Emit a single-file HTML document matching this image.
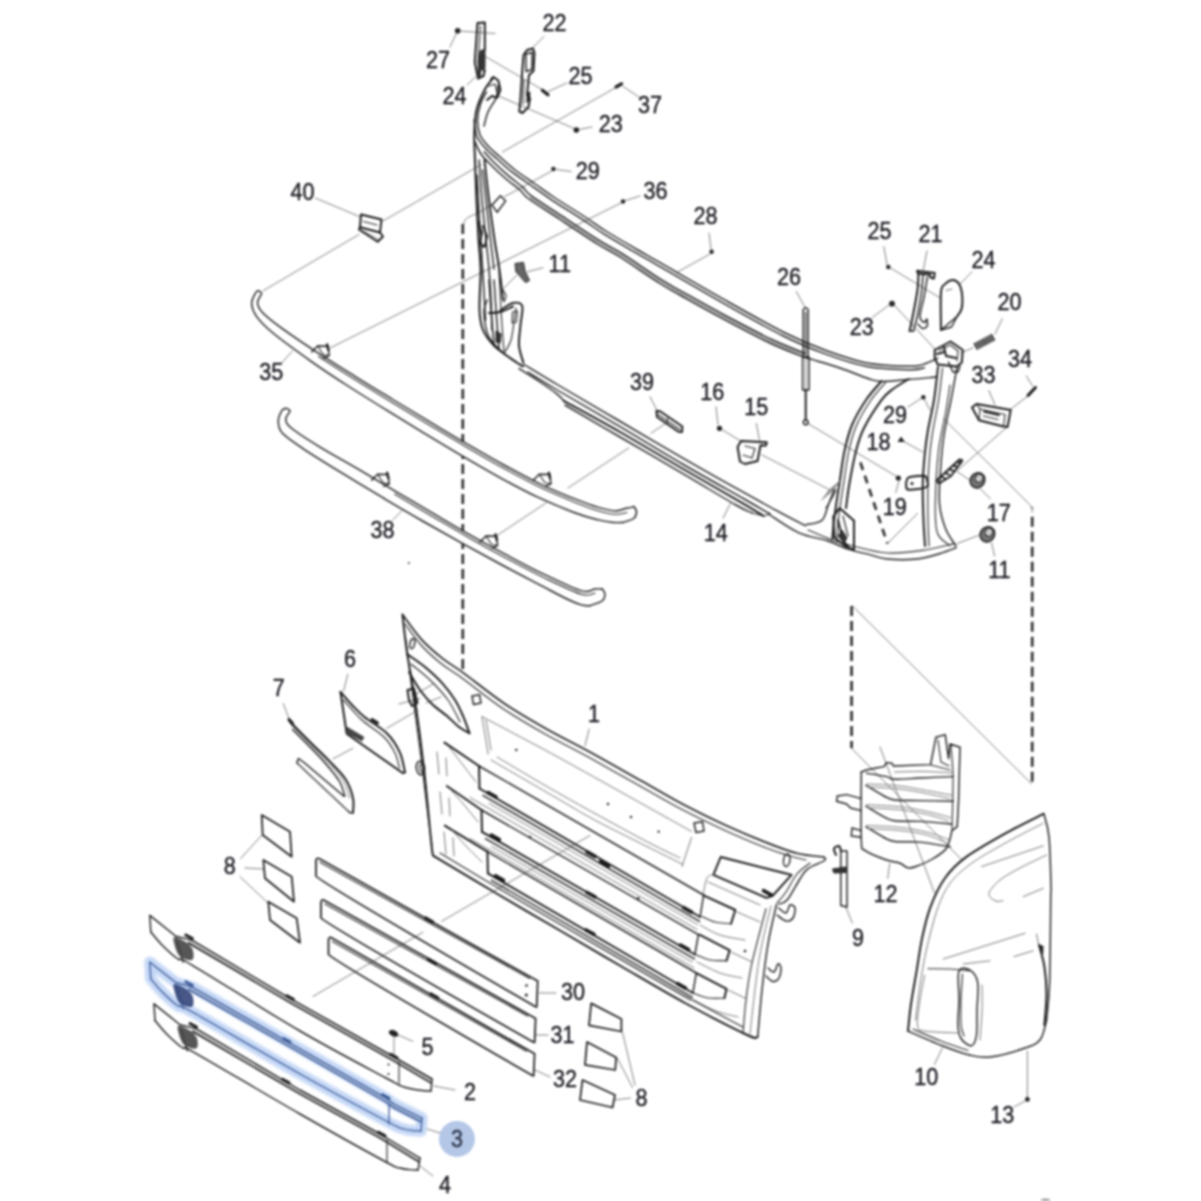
<!DOCTYPE html>
<html><head><meta charset="utf-8"><title>Parts diagram</title>
<style>
html,body{margin:0;padding:0;background:#fff;}
body{width:1201px;height:1201px;overflow:hidden;font-family:"Liberation Sans",sans-serif;}
svg{display:block;filter:blur(0.8px);}
.l{fill:none;stroke:#1e1e1e;stroke-width:1.45;stroke-linecap:round;stroke-linejoin:round;}
.m{fill:none;stroke:#2a2a2a;stroke-width:1.15;stroke-linecap:round;stroke-linejoin:round;}
.g{fill:none;stroke:#777;stroke-width:1;stroke-linecap:round;stroke-linejoin:round;}
.t{fill:none;stroke:#636363;stroke-width:0.82;stroke-linecap:round;}
.b{fill:none;stroke:#1a1a1a;stroke-width:1.95;stroke-linecap:round;stroke-linejoin:round;}
.d{fill:none;stroke:#2a2a2a;stroke-width:2.6;stroke-dasharray:10 5;}
.k{fill:#222;stroke:none;}
.kf{fill:#333;stroke:#222;stroke-width:1;}
.w{fill:#fff;stroke:#1e1e1e;stroke-width:1.45;stroke-linejoin:round;}
.sh{fill:#777;stroke:none;}
.wf{fill:#fff;stroke:none;}
.hl{fill:none;stroke:#c4d7f6;stroke-width:11;stroke-linecap:round;stroke-linejoin:round;opacity:1}
.hb{fill:none;stroke:#3c5a96;stroke-width:1.3;stroke-linecap:round;stroke-linejoin:round;}
text{font-family:"Liberation Sans",sans-serif;font-size:23px;fill:#17171f;stroke:#17171f;stroke-width:.35;text-anchor:middle;}
</style></head><body>
<svg width="1201" height="1201" viewBox="0 0 1201 1201">
<rect x="0" y="0" width="1201" height="1201" fill="#fff"/>
<g id="leaders">
<circle class="k" cx="457.7" cy="30.8" r="2.8"/>
<path class="t" d="M456.5,33 L450,47"/>
<path class="t" d="M459,31 L495,33.5"/>
<path class="t" d="M467,85 L475.4,77"/>
<path class="t" d="M544,36.4 L531.6,49"/>
<path class="b" d="M542.3,90.3 L548,94.8" style="stroke-width:3.2"/>
<path class="t" d="M548,91.6 L567,83"/>
<path class="t" d="M484.8,56.2 L542,89.5"/>
<path class="b" d="M616,87 L621.5,83.8" style="stroke-width:3.2"/>
<path class="t" d="M623,86.4 L640,97.8"/>
<path class="t" d="M616,87.4 L502.4,152"/>
<path class="t" d="M481.6,164.4 L383,221"/>
<path class="t" d="M359,234.5 L263.3,290.7"/>
<circle class="k" cx="576.3" cy="130" r="2.8"/>
<path class="t" d="M579,129.5 L592,127"/>
<path class="t" d="M498,95.8 L573,128"/>
<circle class="k" cx="553.4" cy="169" r="2.2"/>
<path class="t" d="M556,169.5 L571,171.5"/>
<path class="t" d="M552.4,170.7 L504.5,196.7"/>
<path class="t" d="M492,204 C490,205.3 484.1,209.6 479.8,212 C475.6,214.4 469.3,216 466.5,218.5 C463.7,221 463.4,225.6 462.8,227"/>
<circle class="k" cx="623" cy="201.5" r="2.2"/>
<path class="t" d="M625.5,200.5 L640,196"/>
<path class="t" d="M621,203 L330,348"/>
<path class="t" d="M709,233 L711,248.7"/>
<circle class="k" cx="711.6" cy="251.8" r="2.2"/>
<path class="t" d="M710,254 L676.7,272.6"/>
<path class="t" d="M527.4,271.8 L543,267.7"/>
<path class="t" d="M517,275 L502.4,289.5"/>
<path class="t" d="M796.3,291.4 L804.7,307"/>
<path class="t" d="M883.8,246.6 L887,264.3"/>
<circle class="k" cx="888.3" cy="267" r="2.2"/>
<path class="t" d="M890,267.7 L940,297.8"/>
<path class="t" d="M927,251 L923.3,269.7"/>
<path class="t" d="M972,271.8 L959.7,284.3"/>
<path class="t" d="M1002.4,318.6 L995,334"/>
<path class="t" d="M973,347.8 L960.7,353"/>
<circle class="k" cx="892" cy="303.7" r="2.9"/>
<path class="t" d="M872.3,317.4 L889,305"/>
<path class="t" d="M895,306 L935.8,350"/>
<path class="t" d="M1026.3,375.9 L1032.5,386"/>
<path class="b" d="M1035.5,387.5 L1028,395.5" style="stroke-width:3"/>
<path class="t" d="M1027,396.7 L1009.6,410"/>
<path class="t" d="M1006,428 L958,470"/>
<path class="t" d="M988.8,390.5 L995,405"/>
<circle class="k" cx="923.3" cy="397.3" r="2.2"/>
<path class="t" d="M908,407 L921,398.5"/>
<path class="t" d="M924.5,399.5 L930,410"/>
<path class="k" d="M897.5,442 L901,436.5 L905,442Z"/>
<path class="t" d="M904,441.6 L922.8,452"/>
<circle class="k" cx="898.3" cy="478" r="2.6"/>
<path class="t" d="M898.9,481 L895.8,492.6"/>
<path class="t" d="M805.2,421.9 L895.8,476"/>
<path class="t" d="M980,488.5 L990.5,498.9"/>
<path class="t" d="M969.6,480 L956,470.8"/>
<path class="t" d="M991.5,542.6 L994.6,556"/>
<path class="t" d="M979,535.3 L957,543.6"/>
<path class="t" d="M943.6,418.7 C957.3,432.4 1011.4,486.3 1026,501 C1040.6,515.7 1030,505.2 1031,507 C1032,508.8 1032,511.2 1032.2,512"/>
<path class="t" d="M852.3,605.8 L1031.5,783.8"/>
<path class="t" d="M851.2,748 L961.5,859.5"/>
<path class="t" d="M880,747 L934.5,893"/>
<path class="t" d="M756.3,423.5 L759.5,440"/>
<circle class="k" cx="719.5" cy="428.3" r="2.6"/>
<path class="t" d="M716,406.8 L718,424.5"/>
<path class="t" d="M722,429.7 L740.7,441"/>
<path class="t" d="M761.5,454.7 L830,490"/>
<path class="t" d="M723,518.2 L730.3,503.6"/>
<path class="t" d="M650,396.7 L657.5,411.3"/>
<path class="t" d="M664.8,424 L651,433.2"/>
<path class="t" d="M629,447.8 L568,488"/>
<path class="t" d="M546,503 L497,535.5"/>
<path class="t" d="M315.3,198 L360,216.8"/>
<path class="t" d="M281,363.6 L292.4,351"/>
<path class="t" d="M392.8,520 L402,510.7"/>
<path class="t" d="M347.8,674.3 L343.6,691"/>
<path class="t" d="M283.3,703.5 L289.5,720"/>
<path class="t" d="M333.2,758.7 L353,748.2"/>
<path class="t" d="M386.5,728.5 L418,710"/>
<path class="t" d="M416,694 L434,683.5"/>
<path class="t" d="M399,704 L420,698.5"/>
<path class="t" d="M426,703 L441,697"/>
<path class="t" d="M240.6,858.6 L262.4,834.6"/>
<path class="t" d="M244.8,868 L263.5,869"/>
<path class="t" d="M240,876.7 L268.3,903.3"/>
<path class="t" d="M635,1085 L622.5,1032.5"/>
<path class="t" d="M632.5,1087.5 L617.5,1058.5"/>
<path class="t" d="M630.5,1098 L615,1100"/>
<path class="t" d="M539.5,993 L556,993"/>
<path class="t" d="M536,1035 L548,1035"/>
<path class="t" d="M535,1070 L550,1077"/>
<path class="t" d="M398.2,1035 L412.8,1041.3"/>
<path class="t" d="M394,1037 L394,1057"/>
<path class="t" d="M434,1086 L455,1090"/>
<path class="t" d="M424,1128 L440,1133"/>
<path class="t" d="M420,1166 L433,1176"/>
<path class="t" d="M589.2,729 L585,745.7"/>
<path class="t" d="M887.7,878.2 L889.7,863.6"/>
<path class="t" d="M846,907.3 L852.3,923"/>
<path class="t" d="M934.5,1064.4 L942.4,1047.8"/>
<path class="t" d="M1027.4,1051 L1027.4,1096.7"/>
<circle class="k" cx="1027.4" cy="1099.4" r="2.4"/>
<path class="t" d="M1025,1101 L1014,1107"/>
<path class="t" d="M590,835.5 L441.6,921.3"/>
<path class="t" d="M423,932.2 L312.9,996.5"/>
<circle class="k" cx="408.8" cy="563" r="0.9"/>
<ellipse cx="1045.5" cy="1200" rx="4.5" ry="1.6" fill="#999"/>
</g>
<g id="dashed">
<path class="d" d="M462.8,224 L462.8,674"/>
<path class="d" d="M1032.2,516.7 L1032.2,784"/>
<path class="d" d="M851.6,606 L851.6,748"/>
<path class="d" style="stroke-dasharray:8 6" d="M860.4,462.4 L887.4,543.6"/>
<path class="t" d="M887.4,543.6 L917.6,513.4"/>
</g>
<g id="frame14">
<path class="l" d="M486.5,92 C485.5,94 482,99.3 480.5,104 C479,108.7 477.6,114.8 477.5,120 C477.4,125.2 478.2,130.7 480,135 C481.8,139.3 484.7,142.3 488,146 C491.3,149.7 495.5,153 500,157 C504.5,161 509.2,165.5 515,170 C520.8,174.5 528.3,179.3 535,184 C541.7,188.7 546.7,192.5 555,198 C563.3,203.5 576.4,211.4 585,217 C593.6,222.6 597.7,226 606.5,231.5 C615.3,237 628.9,244.8 637.8,250 C646.7,255.2 645.9,254.6 660,262.7 C674.1,270.8 701.6,287 722.4,298.7 C743.2,310.4 767.6,324.3 785,333 C802.4,341.7 812.7,345.7 826.5,350.7 C840.3,355.7 854.1,360.6 868,363.2 C881.9,365.8 900.8,366.1 910,366.3 C919.2,366.5 918.7,365.8 923.3,364.4 C927.9,363 935.4,359.2 937.8,358.2"/>
<path class="l" d="M474.1,119.9 C474.6,122.7 475,131.5 476.8,136.3 C478.7,141 482,144.4 485.5,148.3 C489,152.2 493.2,155.5 497.7,159.5 C502.3,163.6 507,168.2 512.9,172.7 C518.8,177.2 526.3,182.1 533.1,186.8 C539.8,191.5 544.8,195.3 553.1,200.8 C561.5,206.3 574.6,214.3 583.1,219.9 C591.7,225.4 595.9,228.9 604.7,234.4 C613.5,239.9 627.2,247.7 636.1,252.9 C645,258.1 644.2,257.5 658.3,265.6 C672.4,273.8 699.9,289.9 720.7,301.7 C741.6,313.4 766,327.3 783.5,336 C800.9,344.7 811.4,348.8 825.3,353.9 C839.3,359 853.3,363.9 867.4,366.5 C881.5,369.2 900.4,369.5 909.9,369.7 C919.4,369.9 921.9,368 924.3,367.7"/>
<path class="l" d="M475,142 C476,144 478.5,150.3 481,154 C483.5,157.7 486,160 490,164 C494,168 500,173.7 505,178 C510,182.3 516,186.5 520,190 C524,193.5 522.3,194.1 529,199 C535.7,203.9 548.5,211.9 560,219.5 C571.5,227.1 588.2,238.2 598.2,244.5 C608.2,250.8 609.7,250.5 620,257 C630.3,263.5 650,277.2 660,283.5 C670,289.8 669.6,289.2 680,295 C690.4,300.8 707.4,310.4 722.4,318.4 C737.4,326.4 756.5,336.6 770,343 C783.5,349.4 798,354.7 803.6,357"/>
<path class="l" d="M484.2,151.8 C485.6,153.4 488.9,157.4 492.8,161.2 C496.6,165.1 502.6,170.7 507.6,175.1 C512.5,179.4 518.6,183.6 522.6,187.1 C526.5,190.5 524.7,191 531.3,195.9 C537.9,200.7 550.7,208.7 562.1,216.2 C573.6,223.8 590.3,234.9 600.3,241.2 C610.3,247.4 611.8,247.2 622.1,253.7 C632.4,260.2 652.1,273.9 662.1,280.2 C672.1,286.5 671.5,285.8 681.9,291.6 C692.3,297.4 709.3,307 724.2,315 C739.2,322.9 758.2,333.1 771.7,339.5 C785.2,345.9 799.5,351.1 805.1,353.4"/>
<path d="M530.2,197.4 C535.3,200.8 549.6,210.3 561.1,217.8 C572.6,225.4 589.3,236.6 599.3,242.8 C609.3,249.1 610.8,248.8 621.1,255.3 C631.4,261.8 651.1,275.5 661.1,281.8 C671.1,288.1 670.6,287.5 681,293.3 C691.4,299.1 708.4,308.6 723.3,316.6 C738.3,324.6 757.4,334.8 770.9,341.2 C784.4,347.6 798.8,352.8 804.4,355.2" fill="none" stroke="#777" stroke-width="3" opacity=".55"/>
<path class="l" d="M803.6,357 C809.7,358.8 829.3,364.4 840,368 C850.7,371.6 861.1,376.2 868,378.5 C874.9,380.8 874.8,381.3 881.6,381.5 C888.4,381.7 899.7,380.2 908.7,379.5 C917.7,378.8 931.2,377.4 935.7,377"/>
<path class="b" d="M881.6,381 C879,384.2 870.9,392.7 866,400 C861.1,407.3 855.6,416.5 852,425 C848.4,433.5 846.6,441.3 844.5,451 C842.4,460.7 841.2,472.1 839.5,483 C837.8,493.9 835.7,507.2 834.5,516.6 C833.3,526 832.7,535.7 832.3,539.5"/>
<path class="b" d="M908.7,379 C906.1,380.7 897.5,385.5 893,389 C888.5,392.5 886.4,393.3 881.6,399.8 C876.8,406.3 868.3,419.5 864,428 C859.7,436.5 858.4,441.8 856,451 C853.6,460.2 851.2,473.5 849.5,483 C847.8,492.5 846.6,503.8 846,508"/>
<path class="m" d="M885.6,382.5 C883,385.7 874.9,394.2 870,401.5 C865.1,408.8 859.6,418 856,426.5 C852.4,435 850.6,442.8 848.5,452.5 C846.4,462.2 845.2,473.6 843.5,484.5 C841.8,495.4 839.7,508.7 838.5,518.1 C837.3,527.5 836.7,537.2 836.3,541"/>
<path class="b" d="M938,367 C937.3,372.5 935.7,389.5 934,400 C932.3,410.5 929.5,421.3 928,430 C926.5,438.7 925.9,443.2 925,452 C924.1,460.8 923,471.7 922.8,483 C922.5,494.3 923.1,509.5 923.5,520 C923.9,530.5 924.8,541.7 925,546"/>
<path class="m" d="M942.5,368 C941.9,373.3 940.2,389.7 938.6,400 C937,410.3 934.4,421.3 933,430 C931.6,438.7 930.8,443.2 930,452 C929.2,460.8 928.3,471.7 928,483 C927.7,494.3 927.8,509.5 928,520 C928.2,530.5 928.8,541.7 929,546"/>
<path class="l" d="M957,367 C956,372.5 953.2,388.7 951,400 C948.8,411.3 945.8,423.3 944,435 C942.2,446.7 941.2,458.5 940.5,470 C939.8,481.5 938.6,494.2 939.5,504 C940.4,513.8 943,522 945.7,529 C948.5,536 954.3,543.2 956,546"/>
<path class="m" d="M950,385 C949.3,389.6 947.6,401.3 945.7,412.5 C943.8,423.7 940.1,436.8 938.4,452 C936.7,467.2 935.5,490.5 935.3,504 C935.1,517.5 935,526 937.4,533 C939.8,540 947.8,543.6 949.9,545.7"/>
<path class="l" d="M770,515 C774.8,518 789.3,528.5 799,532.8 C808.7,537.1 819.7,538.2 828,541 C836.3,543.8 842,547.1 849,549.4 C856,551.7 863.4,553 869.8,554.6 C876.2,556.2 879.6,558.3 887.4,559 C895.2,559.7 907.8,559.9 916.6,559 C925.4,558.1 933.4,555.4 940,553.5 C946.6,551.6 953.3,548.8 956,547.8"/>
<path class="m" d="M808,530 C812,531.7 824.7,537.4 832,540 C839.3,542.6 842.8,543.5 852,545.7 C861.2,547.9 875.2,552.3 887.4,553 C899.6,553.7 913.9,551.6 925,550 C936.1,548.4 949.2,544.7 954,543.6"/>
<path class="l" d="M523.3,364 C529.1,367.5 542.5,375.8 558,385 C573.5,394.2 595.3,406.9 616,419 C636.7,431.1 660.9,445.4 682.4,457.8 C703.9,470.2 725.6,482.4 745,493.2 C764.4,504 788.6,517.2 799,522.4 C809.4,527.6 803.5,524.8 807.3,524.4 C811.1,524 818.5,523.4 822,520.3 C825.5,517.2 825.9,510.9 828,505.7 C830.1,500.5 833.3,491.8 834.4,489"/>
<path class="l" d="M528,372 C533,375.1 542.7,381.4 558,390.5 C573.3,399.6 599.3,414.4 620,426.6 C640.7,438.9 661.6,451.9 682.4,464 C703.2,476.1 730.4,491.2 745,499.5 C759.6,507.8 765.8,511.6 770,514"/>
<path class="b" d="M563.8,400.9 C573.2,406.1 600.2,420.7 620,432 C639.8,443.3 661.6,456.4 682.4,468.5 C703.2,480.6 731.5,496.7 745,504.6 C758.5,512.5 760.5,514.1 763.6,516"/>
<path class="l" d="M565,405 C574.2,410.3 600.4,425.6 620,437 C639.6,448.4 663.2,462.1 682.4,473.4 C701.6,484.6 723.4,497.9 735,504.5 C746.6,511.1 749.2,511.6 752,513"/>
<path class="l" d="M519,368.6 C522.5,370.8 533.7,377.8 540,382 C546.3,386.2 552.4,390.3 556.6,393.6 C560.8,396.9 563.6,400.6 565,402"/>
<path class="m" d="M752,513 L763.6,516 L770,514"/>
<path class="b" d="M493,78 C491.6,79.9 487.6,84.2 484.8,89.5 C482.1,94.8 478.2,102.7 476.5,110 C474.8,117.3 474.6,124.9 474.3,133.2 C474.1,141.5 474.6,148.9 475,160 C475.4,171.1 475.9,186.7 476.5,200 C477.1,213.3 477.8,228.5 478.5,240 C479.2,251.5 480.4,257.3 480.6,269 C480.8,280.7 479.1,299.8 479.5,310 C479.9,320.2 480.6,324.1 483,330 C485.4,335.9 489.5,341 494,345.7 C498.5,350.4 505.2,354.5 510,358 C514.8,361.5 520.8,365.1 523,366.5"/>
<path class="l" d="M498.3,85.3 C497.9,87.4 497.9,93.3 496.2,97.8 C494.5,102.2 490,107.3 488,112 C486,116.7 484.7,123.7 484,126"/>
<path class="b" d="M484.5,160 C485.2,166.7 487.3,186.7 489,200 C490.7,213.3 492.8,228.5 494.5,240 C496.2,251.5 497.9,259 499.3,269 C500.7,279 502.4,294.8 503,300"/>
<path class="l" d="M479,160 C479.5,166.7 480.8,186.7 482,200 C483.2,213.3 484.8,228.5 486,240 C487.2,251.5 488.2,259 489,269 C489.8,279 490.5,289.8 491,300 C491.5,310.2 491.8,325 492,330"/>
<path class="l" d="M482.5,170 C483.1,175 484.7,188.3 486,200 C487.3,211.7 489.2,228.5 490.5,240 C491.8,251.5 493.4,264.2 494,269"/>
<path class="l" d="M477,175 C477.4,182.5 478.5,203.3 479.5,220 C480.5,236.7 482,258.3 483,275 C484,291.7 485.1,312.5 485.5,320"/>
<path class="b" d="M491,79 L493.5,77 L498.3,80.5 L500.4,90 L497,97.8 L492,96 L487,100"/>
<path class="m" d="M489,86 L495,84 L497,92"/>
<path class="w" d="M492,205 L500.4,195.7 L505.6,200.9 L497.2,212.3Z"/>
<path class="b" d="M478,222 L482,232 L480,243 L484,247"/>
<path class="b" d="M483,226 L487,236 L485,246"/>
<path class="b" d="M500.4,310.3 C502.5,309.1 509.3,303.7 512.9,303 C516.5,302.3 520.9,302.3 522.2,306 C523.5,309.7 521,318.4 520.5,325 C520,331.6 518.5,339.5 519,345.7 C519.5,351.9 522.6,359.6 523.3,362.4"/>
<path class="b" d="M489,313 C490.8,312.8 496,313.1 500,312 C504,310.9 510.8,307.4 513,306.5"/>
<path class="m" d="M516,308 C515.7,310.3 514.8,316.7 514,322 C513.2,327.3 512.5,335 511,340 C509.5,345 506,350 505,352"/>
<path class="l" d="M487,300 C486.5,302 483.8,306.2 484,312 C484.2,317.8 485.3,328.7 488,335 C490.7,341.3 495.3,345.5 500,350 C504.7,354.5 513.3,360 516,362"/>
<path class="l" d="M489,280 C489.3,285 490.2,299 491,310 C491.8,321 493.5,340 494,346"/>
<path class="l" d="M494,280 C494.3,285 495.2,298.5 496,310 C496.8,321.5 498.5,342.5 499,349"/>
<path class="m" d="M499,270 C499.3,276.7 500.2,296.3 501,310 C501.8,323.7 503.5,345 504,352"/>
<path class="kf" d="M496,331 L501,334 L500,343 L496,342Z"/>
<path class="m" d="M512.5,312 L517.5,311 L516.5,322 L512,323Z"/>
<path class="m" d="M503,290 C503.5,291 505.8,294 506,296 C506.2,298 504.3,301 504,302"/>
<path class="b" d="M934.7,350 L950.5,341.5 L962.8,350 L961.8,362.4 L956.6,366.5 L937.8,364.5 L934.7,358.2Z"/>
<path class="m" d="M939,350 L950.5,345 L958,351 L957,361"/>
<path class="b" d="M944,347 L946,356 L956,358"/>
<path class="b" d="M937,354 L944,352"/>
<path class="l" d="M948.5,362 L953,372 L958,372 L960,366"/>
<path class="b" d="M833.3,516.6 L839.5,508 L854,520.7 L854,549.9 L844.8,545.7 L834.3,537.4Z"/>
<path class="b" d="M838,520 L843,541 L848,546"/>
<path class="m" d="M843,516 L848,536"/>
<path class="kf" d="M838,536 L842,530 L847,538 L844,543Z"/>
<path class="g" d="M822,500 L830,489"/>
<path class="g" d="M824.6,497.8 L832.6,486.8"/>
<path class="g" d="M827.2,495.6 L835.2,484.6"/>
<path class="g" d="M829.8,493.4 L837.8,482.4"/>
<path class="g" d="M832.4,491.2 L840.4,480.2"/>
<path class="m" d="M826,508 C827,506.3 830.3,501 832,498 C833.7,495 835.3,491.3 836,490"/>
</g>
<g id="framebits">
<path class="b" d="M477.5,23 L484.8,22.5 L484.8,50 L481.8,51 L481.8,69 L484.8,70 L483.5,76 L478,78.5 L474.8,62Z"/>
<path class="m" d="M480.5,26 L478,62 L480.5,74"/>
<path d="M480,50 L485.5,50 L485.5,68 L481.5,70 L480.5,78 L477.3,78 L478,60Z" fill="#333"/>
<path d="M527,91.5 L530.5,92 L530,100 L526,103.5 Z" fill="#333"/>
<path class="b" d="M523.5,55 L527,50 L533,48.5 L534.5,53 L533.5,71 L529,75 L527,95 L530,98.5 L528.5,107 L522.5,113 L519.3,111.5 L520.5,98 L522,75Z"/>
<path class="l" d="M525.8,54 L532.3,52.5 L531.8,69.5 L526.2,71.5Z"/>
<path class="m" d="M524,80 L523,104"/>
<path class="kf" d="M515,263.5 L523.5,262.4 L525,271 L529.5,280.5 L525.5,282.5 L518.5,274.5 L516,272Z" style="fill:#666"/>
<path class="b" d="M656.4,411 L660,411.2 L682.4,426.5 L682,432 L678.5,431.8 L657,417Z"/>
<path class="m" d="M658,414.5 L680,429.5"/>
<path class="m" d="M667.5,418.5 L667,424"/>
<path class="b" d="M741,441 L766.8,442.2 L766,445.5 L760.5,445.2 L757.5,461 L745,464 L740,461.5 L737.6,447Z"/>
<path class="m" d="M745,446 L755,448.5 L752,458 L743,455"/>
<path class="l" d="M803.2,309.5 L805.7,307.5 L808.2,309.5 L808.2,357 L803.2,357Z"/>
<path class="m" d="M805.7,312 L805.7,355"/>
<path class="l" d="M802.6,357 L809,357 L809,390 L802.6,390Z"/>
<path class="g" d="M805.8,359 L805.8,389"/>
<path class="b" d="M805.7,390 L805.7,420"/>
<circle cx="805.7" cy="422.3" r="2.4" class="w"/>
<path class="b" d="M917,270.8 L934.7,273 L934,278.5 L930.5,277.5 L930,274.8 L918,273.5Z"/>
<path class="b" d="M918.5,273.5 C918.3,276.2 918.4,283.1 917.5,290 C916.6,296.9 914.3,308.2 913,315 C911.7,321.8 910.2,328.3 909.6,331"/>
<path class="l" d="M923,274.5 C922.8,277.4 922.4,285.2 921.5,292 C920.6,298.8 918.8,308.5 917.5,315 C916.2,321.5 914.2,328.3 913.5,331"/>
<path class="l" d="M909.6,331 L913.5,331"/>
<path class="l" d="M927.4,277 C926.8,280.3 925.2,290.4 924,297 C922.8,303.6 919.9,312.4 920,316.6 C920.1,320.9 923.4,322.1 924.5,322.5 C925.6,322.9 926.3,318.4 926.8,319 C927.2,319.6 927.9,324.4 927.2,326 C926.5,327.6 924,328.8 922.5,328.5 C921,328.2 918.8,324.8 918,324"/>
<path class="b" d="M941,330 C941,323.7 940.3,299.6 941,292 C941.7,284.4 943.1,286.2 945,284.2 C946.9,282.2 950.1,280.2 952.4,280 C954.6,279.8 956.9,281.2 958.5,283.2 C960.1,285.2 961.2,287.9 961.8,292 C962.3,296.1 962.6,303.9 961.8,308 C961,312.1 957.8,315.1 957,316.5"/>
<path class="l" d="M957,316.5 L941,330 L951.5,327 L957,316.5"/>
<path class="g" d="M946,290.5 L952,289"/>
<path d="M975.2,346.8 L994.2,336.6" stroke="#222" stroke-width="7.5" stroke-dasharray="1.9 0.8" fill="none"/>
<path class="b" d="M972,407.5 L976.5,404 L1010.7,410 L1007.5,427 L1003.5,426.5 L979,420.2Z"/>
<path class="m" d="M976.5,404 L980,409 L979,420.2"/>
<path class="m" d="M980,409 L1005,414.5 L1003.5,426.5"/>
<path class="b" d="M984,411.5 L999,415"/>
<path class="m" d="M983.5,416 L998,419.5"/>
<path class="b" d="M936.5,480.5 L959.5,459.5 L962.4,460.5 L951,476 L939,483.5Z"/>
<path class="b" d="M942,477 L945,478.5"/>
<path class="b" d="M946,473.3 L949,474.6"/>
<path class="b" d="M950,469.6 L953,470.7"/>
<path class="b" d="M954,465.9 L957,466.8"/>
<path class="b" d="M958,462.2 L961,462.9"/>
<path class="b" d="M907,479.5 C907.6,478 907.1,477.6 910,477 C912.9,476.4 921.7,475.5 924.5,476 C927.3,476.5 926.7,478.2 927,480 C927.3,481.8 929.5,485.4 926.5,487 C923.5,488.6 912.4,490 909,489.8 C905.6,489.6 906.5,487.7 906.2,486 C905.9,484.3 906.4,481 907,479.5Z"/>
<circle cx="912" cy="483.5" r="1.6" class="k"/>
<ellipse cx="977.5" cy="480.3" rx="7" ry="7.8" fill="#777" stroke="#222" stroke-width="1.6" transform="rotate(35 977.5 480.3)"/>
<ellipse cx="979" cy="478.3" rx="3.8" ry="4.3" fill="#ccc" stroke="#222" stroke-width="1.2" transform="rotate(35 979 478.3)"/>
<ellipse cx="987.4" cy="534.3" rx="7" ry="7.8" fill="#777" stroke="#222" stroke-width="1.6" transform="rotate(35 987.4 534.3)"/>
<ellipse cx="988.9" cy="532.3" rx="3.8" ry="4.3" fill="#ccc" stroke="#222" stroke-width="1.2" transform="rotate(35 988.9 532.3)"/>
<path class="b" d="M361,214.5 L381.5,219.5 L380,232.5 L360,227.2Z"/>
<path class="b" d="M360,227.2 L359,229.5 L377.7,241.8 L383,236.5 L380,232.5"/>
<path class="m" d="M363.5,221.5 L377,225"/>
<path class="g" d="M361.5,230 L378,239"/>
</g>
<g id="bars">
<path class="wf" d="M258.3,290.8 C257.3,290.7 256.9,290.4 255.8,292.5 C254.7,294.6 251.5,299.3 251.7,303.3 C251.8,307.3 253.1,311.6 256.7,316.6 C260.3,321.6 264.2,325.9 273.3,333.3 C282.4,340.8 298.5,352.4 311.1,361.3 C323.7,370.2 336.2,378.4 348.8,386.5 C361.4,394.6 374,402.4 386.6,410.2 C399.2,418 411.8,425.7 424.4,433.3 C437,440.9 449.5,448.5 462.1,455.9 C474.7,463.3 487.3,470.7 499.9,477.6 C512.5,484.5 525.1,491.3 537.7,497.2 C550.3,503.1 565.3,509.2 575.4,513 C585.5,516.8 591.9,518.3 598.2,519.9 C604.5,521.5 609,522.1 613.2,522.5 C617.4,522.9 619.3,524.2 623.2,522.4 C627.1,520.6 634.7,514.2 636.5,511.6 C638.3,509 635.7,507.2 634,506.6 C632.3,506.1 629.7,507.6 626.5,508.3 C623.3,509 619.6,511 614.9,510.9 C610.2,510.8 604.4,509.2 598.2,507.4 C592,505.6 587.5,504 577.9,500.2 C568.3,496.4 553.1,490.2 540.8,484.3 C528.4,478.4 516.1,471.7 503.8,465 C491.5,458.3 479.2,451.1 466.8,443.9 C454.4,436.7 442.1,429.3 429.7,421.9 C417.3,414.5 405,407 392.7,399.5 C380.4,392 368,384.5 355.7,376.8 C343.4,369.1 331,361.4 318.6,353.3 C306.2,345.2 291,334.9 281.6,328.1 C272.2,321.3 266.5,316.8 262.5,312.5 C258.5,308.2 257.6,305.7 257.5,302.5 C257.4,299.3 261.5,295.2 261.6,293.3 C261.7,291.4 259.3,290.9 258.3,290.8Z"/>
<path class="l" d="M258.3,290.8 C257.9,291.1 256.9,290.4 255.8,292.5 C254.7,294.6 251.5,299.3 251.7,303.3 C251.8,307.3 253.1,311.6 256.7,316.6 C260.3,321.6 264.2,325.9 273.3,333.3 C282.4,340.8 298.5,352.4 311.1,361.3 C323.7,370.2 336.2,378.4 348.8,386.5 C361.4,394.6 374,402.4 386.6,410.2 C399.2,418 411.8,425.7 424.4,433.3 C437,440.9 449.5,448.5 462.1,455.9 C474.7,463.3 487.3,470.7 499.9,477.6 C512.5,484.5 525.1,491.3 537.7,497.2 C550.3,503.1 565.3,509.2 575.4,513 C585.5,516.8 591.9,518.3 598.2,519.9 C604.5,521.5 609,522.1 613.2,522.5 C617.4,522.9 621.5,522.4 623.2,522.4"/>
<path class="l" d="M258.3,290.8 C258.9,291.2 261.7,291.4 261.6,293.3 C261.5,295.2 257.4,299.3 257.5,302.5 C257.6,305.7 258.5,308.2 262.5,312.5 C266.5,316.8 272.2,321.3 281.6,328.1 C291,334.9 306.2,345.2 318.6,353.3 C331,361.4 343.4,369.1 355.7,376.8 C368,384.5 380.4,392 392.7,399.5 C405,407 417.3,414.5 429.7,421.9 C442.1,429.3 454.4,436.7 466.8,443.9 C479.2,451.1 491.5,458.3 503.8,465 C516.1,471.7 528.4,478.4 540.8,484.3 C553.1,490.2 568.3,496.4 577.9,500.2 C587.5,504 592,505.6 598.2,507.4 C604.4,509.2 610.2,510.8 614.9,510.9 C619.6,511 623.3,509 626.5,508.3 C629.7,507.6 632.8,506.9 634,506.6"/>
<path class="l" d="M634,506.6 C634.4,507.4 636.5,509.7 636.5,511.6 C636.5,513.5 636.2,516.5 634,518.3 C631.8,520.1 625,521.7 623.2,522.4"/>
<path class="m" d="M318.6,356.6 C324.8,360.5 343.4,372.4 355.7,380.1 C368,387.8 380.4,395.3 392.7,402.8 C405,410.3 417.3,417.8 429.7,425.2 C442.1,432.6 454.4,440 466.8,447.2 C479.2,454.4 491.5,461.6 503.8,468.3 C516.1,475 528.4,481.7 540.8,487.6 C553.1,493.5 568.3,499.6 577.9,503.5 C587.5,507.4 592,508.9 598.2,510.7 C604.4,512.5 610.1,513.9 614.9,514.2 C619.7,514.5 625,512.8 627,512.5"/>
<path class="l" d="M311.6,352 L317.6,346 L328.1,346.2 L329.2,355.5 L323.6,358"/>
<path class="m" d="M317.6,346 L323.1,354.5 L329.2,355.5"/>
<path class="b" d="M327.1,344.5 L328.4,350" style="stroke-width:2.4"/>
<path class="l" d="M533.3,480.3 L539.3,474.3 L549.8,474.5 L550.9,483.8 L545.3,486.3"/>
<path class="m" d="M539.3,474.3 L544.8,482.8 L550.9,483.8"/>
<path class="b" d="M548.8,472.8 L550.1,478.3" style="stroke-width:2.4"/>
<path class="wf" d="M285.8,408.3 C284.4,408.3 282.9,408.6 281.7,410.8 C280.4,413 278.2,417.9 278.3,421.6 C278.4,425.4 278.3,428.8 282.5,433.3 C286.7,437.8 293.2,442.1 303.3,448.8 C313.4,455.5 329.8,465.6 343,473.7 C356.2,481.8 369.6,489.8 382.8,497.7 C396.1,505.6 409.2,513.4 422.5,521 C435.8,528.6 449.1,536.1 462.3,543.4 C475.6,550.7 488.8,557.9 502,565 C515.2,572.1 531.3,580.4 541.8,585.9 C552.3,591.4 558.3,594.8 564.9,598 C571.5,601.2 577.3,603.6 581.5,604.9 C585.7,606.2 586,607.5 589.9,605.7 C593.8,603.9 602.8,596.8 604.9,594 C607,591.2 604.1,589.8 602.4,589 C600.7,588.2 598.4,588.7 594.9,589 C591.4,589.3 590,593.3 581.5,590.9 C573,588.5 556.6,580.3 544.1,574.4 C531.6,568.5 519.2,561.8 506.8,555.2 C494.4,548.6 481.8,541.7 469.4,534.6 C456.9,527.5 444.6,520.2 432.1,512.9 C419.7,505.6 407.1,498.2 394.7,490.8 C382.2,483.4 369.8,476 357.4,468.7 C344.9,461.4 331,453.8 320,447.1 C309,440.4 297.3,433 291.6,428.3 C285.9,423.6 286.1,422.1 285.8,419.2 C285.5,416.3 290,412.6 290,410.8 C290,409 287.2,408.3 285.8,408.3Z"/>
<path class="l" d="M285.8,408.3 C285.1,408.7 282.9,408.6 281.7,410.8 C280.4,413 278.2,417.9 278.3,421.6 C278.4,425.4 278.3,428.8 282.5,433.3 C286.7,437.8 293.2,442.1 303.3,448.8 C313.4,455.5 329.8,465.6 343,473.7 C356.2,481.8 369.6,489.8 382.8,497.7 C396.1,505.6 409.2,513.4 422.5,521 C435.8,528.6 449.1,536.1 462.3,543.4 C475.6,550.7 488.8,557.9 502,565 C515.2,572.1 531.3,580.4 541.8,585.9 C552.3,591.4 558.3,594.8 564.9,598 C571.5,601.2 577.3,603.6 581.5,604.9 C585.7,606.2 588.5,605.6 589.9,605.7"/>
<path class="l" d="M285.8,408.3 C286.5,408.7 290,409 290,410.8 C290,412.6 285.5,416.3 285.8,419.2 C286.1,422.1 285.9,423.6 291.6,428.3 C297.3,433 309,440.4 320,447.1 C331,453.8 344.9,461.4 357.4,468.7 C369.8,476 382.2,483.4 394.7,490.8 C407.1,498.2 419.7,505.6 432.1,512.9 C444.6,520.2 456.9,527.5 469.4,534.6 C481.8,541.7 494.4,548.6 506.8,555.2 C519.2,561.8 531.6,568.5 544.1,574.4 C556.6,580.3 573,588.5 581.5,590.9 C590,593.3 591.4,589.3 594.9,589 C598.4,588.7 601.1,589 602.4,589"/>
<path class="l" d="M602.4,589 C602.8,589.8 604.9,592 604.9,594 C604.9,596 604.9,598.8 602.4,600.7 C599.9,602.7 592,604.9 589.9,605.7"/>
<path class="m" d="M394.7,494.1 C400.9,497.8 419.7,508.9 432.1,516.2 C444.6,523.5 456.9,530.8 469.4,537.9 C481.8,545 494.4,551.9 506.8,558.5 C519.2,565.1 531.6,571.8 544.1,577.7 C556.6,583.6 573,591.6 581.5,594.2 C590,596.8 592.8,593.2 595,593"/>
<path class="l" d="M371.6,480.3 L377.6,474.3 L388.1,474.5 L389.2,483.8 L383.6,486.3"/>
<path class="m" d="M377.6,474.3 L383.1,482.8 L389.2,483.8"/>
<path class="b" d="M387.1,472.8 L388.4,478.3" style="stroke-width:2.4"/>
<path class="l" d="M480,542 L486,536 L496.5,536.2 L497.6,545.5 L492,548"/>
<path class="m" d="M486,536 L491.5,544.5 L497.6,545.5"/>
<path class="b" d="M495.5,534.5 L496.8,540" style="stroke-width:2.4"/>
</g>
<g id="bars30">
<path class="l" d="M319,858.5 L537.7,981 L536.7,1007 L534.7,1006.3 Q317.5,880.5 316,876 L316,861 Q316,857.5 319,858.5 Z" style="stroke-width:1.75"/>
<path class="m" d="M320,862.2 L529.7,978.5"/>
<path class="l" d="M324,900.2 L535.6,1018.4 L534.6,1042.4 L532.6,1041.7 Q322.5,922.2 321,917.7 L321,902.7 Q321,899.2 324,900.2 Z" style="stroke-width:1.75"/>
<path class="m" d="M325,903.9 L527.6,1016"/>
<path class="l" d="M331.5,937.7 L534.6,1053.8 L533.6,1075.8 L531.6,1075.1 Q330,958.7 328.5,954.2 L328.5,940.2 Q328.5,936.7 331.5,937.7 Z" style="stroke-width:1.75"/>
<path class="m" d="M332.5,941.4 L526.6,1051.2"/>
<circle class="k" cx="526.5" cy="985.5" r="1.3"/>
<circle class="k" cx="526.3" cy="995" r="1.5"/>
<path class="b" d="M425.5,917.9 L432.5,921.9" style="stroke-width:3.2"/>
<path class="b" d="M428.6,959.4 L435.6,963.4" style="stroke-width:3.2"/>
<path class="b" d="M430.7,993.9 L437.7,997.9" style="stroke-width:3.2"/>
</g>
<defs><filter id="glow" x="-5%" y="-20%" width="110%" height="140%"><feGaussianBlur stdDeviation="1.3"/></filter></defs>
<g id="bars234">
<path class="l" d="M149.8,915.4 L175.8,936.2 L192.4,940.4 L290.3,998.6 L394,1057 L432,1079"/>
<path class="l" d="M150.8,932 C152.7,934.2 157.5,940.5 162,945 C166.5,949.5 172.8,955.6 177.9,959 C183,962.4 172.1,953.3 192.4,965.3 C212.8,977.3 267.7,1012.2 300,1031 C332.3,1049.8 368.7,1068.7 386,1078 C403.3,1087.3 398.3,1085 404,1087 C409.7,1089 415.5,1089.6 420,1090.3 C424.5,1091 429.2,1090.9 431,1091"/>
<path class="l" d="M149.8,915.4 L150.8,932"/>
<path class="l" d="M432,1079 L431,1091"/>
<path d="M188.4,941.1 L290.3,1000.9 L394,1059.3 L431.5,1081.5" fill="none" stroke="#6e6e6e" stroke-width="3.4" opacity=".42"/>
<path class="l" d="M188.4,943 L290.3,1002.8 L394,1061.2 L431.5,1083.4"/>
<path class="l" d="M177,941 L183,962"/>
<path d="M174.1,937.3 C175.8,936.5 181.9,939.5 185,941.5 C188.1,943.5 191.1,946.1 192.4,949 C193.7,951.9 194,957.2 193,959 C192,960.8 188.9,960.4 186.6,959.8 C184.3,959.2 181,957.8 179.1,955.6 C177.2,953.4 175.8,949.5 175,946.5 C174.2,943.5 172.4,938.1 174.1,937.3Z" fill="#444" stroke="none" opacity=".9"/>
<path class="b" d="M185.8,935 L192.3,938.5" style="stroke-width:3"/>
<path class="b" d="M286.8,995.8 L293.3,999.3" style="stroke-width:3"/>
<path class="b" d="M390.5,1054.3 L397,1057.8" style="stroke-width:3"/>
<path class="m" d="M399,1062 L399,1083"/>
<circle class="k" cx="388.5" cy="1064.5" r="1.1"/>
<circle class="k" cx="388.5" cy="1074" r="1.1"/>
<path class="l" d="M154,1003.9 L180,1024.7 L196.6,1028.9 L300,1090 L380,1134 L420,1158"/>
<path class="l" d="M155,1020.5 C156.9,1022.7 161.7,1029 166.2,1033.5 C170.7,1038 177,1044.1 182.1,1047.5 C187.2,1050.9 176.9,1042.7 196.6,1053.8 C216.2,1064.9 268.4,1096 300,1114 C331.6,1132 369.3,1153 386,1162 C402.7,1171 396,1166.7 400,1168 C404,1169.3 407,1169.3 410,1169.6 C413,1169.9 416.7,1169.9 418,1170"/>
<path class="l" d="M154,1003.9 L155,1020.5"/>
<path class="l" d="M420,1158 L418,1170"/>
<path d="M192.6,1029.6 L300,1092.3 L380,1136.3 L419.5,1160.5" fill="none" stroke="#6e6e6e" stroke-width="3.4" opacity=".42"/>
<path class="l" d="M192.6,1031.5 L300,1094.2 L380,1138.2 L419.5,1162.4"/>
<path class="l" d="M181.2,1029.5 L187.2,1050.5"/>
<path d="M178.3,1025.8 C180,1025 186.1,1028 189.2,1030 C192.2,1032 195.3,1034.6 196.6,1037.5 C197.9,1040.4 198.2,1045.7 197.2,1047.5 C196.2,1049.3 193.1,1048.9 190.8,1048.3 C188.5,1047.7 185.2,1046.3 183.3,1044.1 C181.4,1041.9 180,1038 179.2,1035 C178.4,1032 176.6,1026.6 178.3,1025.8Z" fill="#444" stroke="none" opacity=".9"/>
<path class="b" d="M190,1023.5 L196.5,1027" style="stroke-width:3"/>
<path class="b" d="M282.5,1079.3 L289,1082.8" style="stroke-width:3"/>
<path class="b" d="M378.5,1132.3 L385,1135.8" style="stroke-width:3"/>
<path class="m" d="M387,1140 L387,1163"/>
<g filter="url(#glow)">
<path class="hl" d="M149.8,962.2 L175.8,982.5 L192.4,987 L290,1043 L386,1098 L394,1104 L422,1118 M150.8,978.8 C152.7,981 157.5,987.3 162,991.8 C166.5,996.3 172.8,1002.4 177.9,1005.8 C183,1009.2 172.1,1000.6 192.4,1012 C212.8,1023.4 267.4,1055.7 300,1074 C332.6,1092.3 370.7,1112.8 388,1122 C405.3,1131.2 399.8,1127.6 404,1129 C408.2,1130.4 410.2,1130.3 413,1130.6 C415.8,1130.9 419.7,1130.9 421,1131 M149.8,962.2 L150.8,978.8 M422,1118 L421,1131"/>
</g>
<path class="hb" d="M149.8,962.2 L175.8,982.5 L192.4,987 L290,1043 L386,1098 L394,1104 L422,1118"/>
<path class="hb" d="M150.8,978.8 C152.7,981 157.5,987.3 162,991.8 C166.5,996.3 172.8,1002.4 177.9,1005.8 C183,1009.2 172.1,1000.6 192.4,1012 C212.8,1023.4 267.4,1055.7 300,1074 C332.6,1092.3 370.7,1112.8 388,1122 C405.3,1131.2 399.8,1127.6 404,1129 C408.2,1130.4 410.2,1130.3 413,1130.6 C415.8,1130.9 419.7,1130.9 421,1131"/>
<path class="hb" d="M149.8,962.2 L150.8,978.8"/>
<path class="hb" d="M422,1118 L421,1131"/>
<path d="M188.4,987.7 L290,1045.3 L386,1100.3 L394,1106.3 L421.5,1120.5" fill="none" stroke="#5b6f9c" stroke-width="3.4" opacity=".42"/>
<path class="hb" d="M188.4,989.6 L290,1047.2 L386,1102.2 L394,1108.2 L421.5,1122.4"/>
<path class="hb" d="M177,987.8 L183,1008.8"/>
<path d="M174.1,984.1 C175.8,983.3 181.9,986.3 185,988.3 C188.1,990.2 191.1,992.9 192.4,995.8 C193.7,998.7 194,1004 193,1005.8 C192,1007.6 188.9,1007.2 186.6,1006.6 C184.3,1006 181,1004.6 179.1,1002.4 C177.2,1000.2 175.8,996.3 175,993.3 C174.2,990.2 172.4,984.9 174.1,984.1Z" fill="#33457a" stroke="none" opacity=".9"/>
<path class="hb" d="M185.8,981.8 L192.3,985.3" style="stroke-width:3"/>
<path class="hb" d="M283.5,1038.6 L290,1042.1" style="stroke-width:3"/>
<path class="hb" d="M382.5,1094.8 L389,1098.3" style="stroke-width:3"/>
<path class="hb" d="M389,1104 L389,1124"/>
<ellipse cx="393.5" cy="1033.3" rx="5" ry="3" fill="#222" transform="rotate(25 393.5 1033.3)"/>
</g>
<g id="grille">
<path class="l" d="M402.5,614.6 C405.7,618.8 415,632.3 421.6,639.6 C428.2,646.9 435.4,652.8 442.4,658.3 C449.3,663.8 452.9,665.3 463.3,672.9 C473.7,680.5 491.1,694.6 505,704 C518.9,713.4 532.7,721.2 546.5,729 C560.3,736.8 572.1,742.3 588,751 C603.9,759.7 625.7,772.1 641.6,781 C657.5,789.9 669.4,797.2 683.3,804.5 C697.2,811.8 711.1,818.6 725,825 C738.9,831.4 754.4,837.9 766.5,842.6 C778.6,847.4 788.2,851.1 797.8,853.5 C807.3,855.9 819.5,856.4 823.8,857" style="stroke-width:1.7"/>
<path class="m" d="M405,624 C407.7,627.5 415,638.4 421,645 C427,651.6 434.2,658 441,663.5 C447.8,669 451.6,670.4 462,678 C472.4,685.6 489.7,699.7 503.5,709 C517.3,718.3 531.2,726.2 545,734 C558.8,741.8 570.7,747.3 586.5,756 C602.3,764.7 624.1,777.1 640,786 C655.9,794.9 668,802.2 682,809.5 C696,816.8 710.2,823.7 724,830 C737.8,836.3 754,843.2 765,847.5 C776,851.8 783.2,853.9 790,856 C796.8,858.1 803.3,859.3 806,860"/>
<path class="l" d="M823.8,857 C823.9,857.6 827.1,858.6 824.5,860.5 C821.9,862.4 812.1,865.5 808,868.6 C803.9,871.7 803.5,873.8 800,879 C796.5,884.2 790.8,895.6 787.3,899.8 C783.8,904 780.4,903.3 779,904"/>
<path class="m" d="M810,863 C807.8,864.8 801,869.2 797,874 C793,878.8 789.3,887.2 786,892 C782.7,896.8 778.5,901.2 777,903"/>
<path class="b" d="M402.5,614.6 C403.2,620.8 404.8,637.1 407,652 C409.2,666.9 412.7,684.9 415.5,704 C418.3,723.1 421,743 423.7,766.5 C426.4,790 429.9,830.1 431.5,845 C433.1,859.9 433.2,854 433.5,855.8"/>
<path class="m" d="M406,640 C407,648.3 409.7,671.7 412,690 C414.3,708.3 417.2,728.3 420,750 C422.8,771.7 426.5,804.2 428.5,820 C430.5,835.8 431.4,840.8 432,845"/>
<path class="b" d="M433.5,855.8 C443.9,862 474.7,880.5 495.8,893 C516.9,905.5 538.9,918.2 560,930.5 C581.1,942.8 601.6,954.9 622.4,967 C643.2,979.1 664.2,991.7 685,1003 C705.8,1014.3 735.2,1029.4 747.3,1035 C759.4,1040.6 756,1036.4 757.7,1036.7"/>
<path class="m" d="M440,853 C449.3,858.6 475.8,874.7 495.8,886.5 C515.8,898.3 538.9,911.8 560,924 C581.1,936.2 601.6,948 622.4,960 C643.2,972 664.9,984.8 685,996 C705.1,1007.2 733.3,1021.8 743,1027"/>
<path class="l" d="M776.5,904.5 C775.1,911.1 770.4,929.8 768,944 C765.6,958.2 763.7,974.5 762,990 C760.3,1005.5 758.4,1028.9 757.7,1036.7"/>
<path class="m" d="M766,908.7 C763.6,918.1 754.8,949.8 751.5,965 C748.2,980.2 747.4,988.6 746,1000 C744.6,1011.4 743.5,1028 743,1033.6"/>
<path class="g" d="M771,906 C769,915 762.5,938.7 759,960 C755.5,981.3 751.5,1021.7 750,1034"/>
<path class="l" d="M778.6,908 C779.8,908.8 784.1,913.5 786,913 C787.9,912.5 788.5,905.8 790,905 C791.5,904.2 794.5,905.8 795,908 C795.5,910.2 794.5,915.8 793,918 C791.5,920.2 788.7,921.5 786,921 C783.3,920.5 778.5,916 777,915"/>
<path class="l" d="M768,968 C769,968.7 772.3,972.7 774,972 C775.7,971.3 776.8,964.7 778,964 C779.2,963.3 780.8,965.7 781,968 C781.2,970.3 780.3,975.8 779,978 C777.7,980.2 775.2,981.8 773,981.5 C770.8,981.2 767.2,976.9 766,976"/>
<path class="b" d="M407,654 C410,656.2 419.1,662.1 425,667 C430.9,671.9 437.4,677.8 442.4,683.3 C447.4,688.8 451.5,694.5 455,700 C458.5,705.5 460.9,711.1 463.3,716.6 C465.7,722.1 468.5,730.4 469.5,733.2"/>
<path class="b" d="M409,672 C410.8,675 416.2,684.7 420,690 C423.8,695.3 427.5,699.7 432,704 C436.5,708.3 442.5,712.2 447,716 C451.5,719.8 455.2,724.1 459,727 C462.8,729.9 467.8,732.2 469.5,733.2"/>
<path class="m" d="M411,664 C414.2,666.7 423.8,674 430,680 C436.2,686 443,693 448,700 C453,707 458,718.3 460,722"/>
<ellipse cx="412.3" cy="643.7" rx="2.3" ry="5" class="l" transform="rotate(12 412.3 643.7)"/>
<path class="b" d="M407.5,690 L414,688.5 L417.5,703 L412,706 L409,700Z"/>
<path class="l" d="M472,696 L479.5,694.7 L481,703 L473.5,704.5Z"/>
<path class="l" d="M694,823 L702.5,821.8 L704,831 L696,832.5Z"/>
<ellipse cx="786.7" cy="860.2" rx="3.2" ry="6.3" class="l" transform="rotate(8 786.7 860.2)"/>
<ellipse cx="420.5" cy="768" rx="4.2" ry="6.8" class="l" transform="rotate(-8 420.5 768)"/>
<ellipse cx="421.5" cy="768" rx="2" ry="4" class="m" transform="rotate(-8 421.5 768)"/>
<path class="g" d="M482,716.6 C494.3,723.2 531.4,742.6 556,756 C580.6,769.4 607.2,784.4 629.8,797 C652.4,809.6 681.3,825.8 691.6,831.5"/>
<path class="g" d="M482,716.6 L488.2,754"/>
<path class="g" d="M486,720 L491,750"/>
<path class="g" d="M491,760 C502.5,766.7 541.8,789.5 560,800 C578.2,810.5 579.5,812.1 600,822.8 C620.5,833.5 669.2,857.5 683,864.4"/>
<path class="g" d="M497,757 C507.5,763.2 536.2,780.5 560,794 C583.8,807.5 620,827.3 640,838 C660,848.7 673.3,854.7 680,858"/>
<path class="g" d="M691.6,837.4 L682,866.5"/>
<circle class="k" cx="516.3" cy="749.9" r="1.2"/>
<circle class="k" cx="608" cy="804" r="1.2"/>
<circle class="k" cx="631" cy="817" r="1.2"/>
<circle class="k" cx="658.7" cy="831.6" r="1.2"/>
<path class="b" d="M720.7,857 L783,872.8 L791.5,874.9 L772.8,895.7 L766.5,897.8 L713.4,874.9Z"/>
<path class="g" d="M713.4,874.9 C712.3,875.4 708.7,874.6 707,878 C705.3,881.4 703.7,892.2 703,895"/>
<path class="g" d="M708,882 L760,905"/>
<path class="l" d="M479,766 L703.6,895"/>
<path class="b" d="M479,766 L479.5,788.5"/>
<path class="l" d="M703.6,895 L700.1,917"/>
<path class="b" d="M479.5,788.5 L700.1,917"/>
<path class="l" d="M483,795.4 L699.6,921.3"/>
<path class="g" d="M489,803.3 L697.6,924.5"/>
<path class="l" d="M481.5,810 L698.4,934.7"/>
<path class="b" d="M481.5,810 L482,831.8"/>
<path class="l" d="M698.4,934.7 L694.9,954.5"/>
<path class="b" d="M482,831.8 L694.9,954.5"/>
<path class="l" d="M485.5,838.7 L694.4,958.8"/>
<path class="g" d="M491.5,846.6 L692.4,962.1"/>
<path class="l" d="M487.4,851.6 L696.3,973"/>
<path class="b" d="M487.4,851.6 L487.9,873.4"/>
<path class="l" d="M696.3,973 L692.8,993"/>
<path class="b" d="M487.9,873.4 L692.8,993"/>
<path class="l" d="M491.4,880.3 L692.3,997.3"/>
<path class="g" d="M497.4,888.2 L690.3,1000.5"/>
<path class="b" d="M444.5,742.6 L479,766"/>
<path class="b" d="M446.8,786 L481.5,810"/>
<path class="b" d="M444.8,825.6 L487.4,851.6"/>
<path class="g" d="M470,797.5 L697,929.5"/>
<path class="g" d="M470,838.5 L694,968"/>
<path class="g" d="M437,752 L439,774"/>
<path class="g" d="M446,758 L447,776"/>
<path class="g" d="M440,792 L442,814"/>
<path class="g" d="M449,798 L450,816"/>
<path class="g" d="M444,832 L446,854"/>
<path class="g" d="M453,838 L454,856"/>
<path class="g" d="M449,747 C451.3,750 458.5,759.2 463,765 C467.5,770.8 473.8,779.2 476,782"/>
<path class="g" d="M451,790 C453.3,792.7 460.5,800.7 465,806 C469.5,811.3 475.8,819.3 478,822"/>
<path class="g" d="M452,830 C454.3,832.7 461,840.7 466,846 C471,851.3 479.3,859.3 482,862"/>
<path class="b" d="M704,895.7 L735.3,910 L731,923.8"/>
<path class="m" d="M702,916.5 C704.2,917.4 710.2,920.8 715,922 C719.8,923.2 728.3,923.5 731,923.8"/>
<path class="b" d="M699.5,934.7 L729.7,950.3 L726.5,960.7"/>
<path class="m" d="M695.3,954.5 C697.8,955.4 704.8,959 710,960 C715.2,961 723.8,960.6 726.5,960.7"/>
<path class="b" d="M696.3,973.2 L726.5,988.8 L724.4,998.2"/>
<path class="m" d="M693.2,993 C695.7,993.8 702.8,997.1 708,998 C713.2,998.9 721.7,998.2 724.4,998.2"/>
<path class="g" d="M737,912 L760,922"/>
<path class="g" d="M731,952 L752,962"/>
<path class="g" d="M728,990 L747,999"/>
<path class="g" d="M700,925 C703.3,926.7 712.5,932.5 720,935 C727.5,937.5 740.8,939.2 745,940"/>
<path class="g" d="M697,962 C700.8,963.8 712.5,970.3 720,973 C727.5,975.7 738.3,977.2 742,978"/>
<path class="g" d="M694,1000 C697.7,1001.8 708.7,1008.2 716,1011 C723.3,1013.8 734.3,1016 738,1017"/>
<path class="b" d="M488.1,792.6 L496.1,797" style="stroke-width:3.6"/>
<path class="b" d="M491.3,835.2 L499.3,839.6" style="stroke-width:3.6"/>
<path class="b" d="M495.5,875.9 L503.5,880.3" style="stroke-width:3.6"/>
<path class="b" d="M587,851.9 L595,856.3" style="stroke-width:3.6"/>
<path class="b" d="M587,892.5 L595,896.9" style="stroke-width:3.6"/>
<path class="b" d="M586,930 L594,934.4" style="stroke-width:3.6"/>
<path class="b" d="M683.5,907.7 L691.5,912.1" style="stroke-width:3.6"/>
<path class="b" d="M680.5,945.2 L688.5,949.6" style="stroke-width:3.6"/>
<path class="b" d="M677.5,983.7 L685.5,988.1" style="stroke-width:3.6"/>
<path class="b" d="M600.5,861.7 L608.5,866.1" style="stroke-width:3.6"/>
<path class="b" d="M763.5,890.7 L771.5,895.1" style="stroke-width:3.6"/>
<circle class="k" cx="530" cy="837" r="1.3"/>
<circle class="k" cx="638.3" cy="898.4" r="1.3"/>
<circle class="k" cx="745" cy="951" r="1.3"/>
</g>
<g id="p6p7p8">
<path class="b" d="M340.5,692 C342.4,694.2 348,700.8 352,705 C356,709.2 358.5,712.2 364.4,717 C370.3,721.8 381.4,727.8 387.3,733.7 C393.2,739.6 396.9,746 399.8,752.4 C402.8,758.8 404.1,768.9 405,772.2"/>
<path class="b" d="M340.5,692 L346.7,733.7 L403,773.2 L405,772.2"/>
<path class="m" d="M343.5,700 C346.6,703.3 355.2,713.8 362,720 C368.8,726.2 378.5,731.5 384,737 C389.5,742.5 392.4,747.8 395,753 C397.6,758.2 398.8,765.5 399.5,768"/>
<path d="M346.7,726.4 L364.4,737 L362,741.5 L347.3,733.5Z" fill="#444"/>
<path class="b" d="M372,719.5 L377.5,723" style="stroke-width:3"/>
<path class="b" d="M289.5,721.2 C292.9,724.7 303.4,735.4 310,742 C316.6,748.6 323.1,754.5 329,760.7 C334.9,767 341.7,773.2 345.7,779.5 C349.7,785.8 351.8,792.7 353,798.2 C354.2,803.8 353,810.4 353,812.8"/>
<path class="l" d="M292.6,729.5 C295.3,732.2 303.6,740.5 309,746 C314.4,751.5 319.8,756.9 324.9,762.8 C330,768.7 336.2,776 339.5,781.5 C342.8,787 343.8,793.6 344.7,796"/>
<path class="g" d="M291,725 C294.2,728.2 304,738.4 310,744.5 C316,750.6 321.5,755.5 327,761.5 C332.5,767.5 339.2,774.4 343,780.5 C346.8,786.6 348.4,795.1 349.5,798"/>
<path class="l" d="M353,812.8 L349.9,812.8 L296.8,762.8 L298.5,758.5 L304,762.5 L343.6,796 L344.7,796"/>
<path class="g" d="M299,765 L347,810"/>
<path class="b" d="M289,719.5 L292.5,723.5" style="stroke-width:3"/>
<path class="l" d="M261.7,815 L290,831.7 L291.7,856.7 L262.7,835Z" style="stroke-width:1.75"/>
<path class="l" d="M263.3,860 L291.7,876.7 L294,901.7 L265,878.3Z" style="stroke-width:1.75"/>
<path class="l" d="M268.3,901.7 L296.7,918.3 L300,942.7 L270,920Z" style="stroke-width:1.75"/>
<path class="l" d="M591.2,1003.4 L621.4,1019 L621.4,1031.5 L589,1025.3Z" style="stroke-width:1.75"/>
<path class="l" d="M587,1042 L616.2,1057.5 L615.2,1070 L585,1064.8Z" style="stroke-width:1.75"/>
<path class="l" d="M582.5,1080 L615,1095 L612.5,1107.5 L580,1100Z" style="stroke-width:1.75"/>
</g>
<g id="right">
<path class="l" d="M861.3,772 C861.3,783.3 860.6,826.9 861.3,840 C862,853.1 861.1,847.3 865.3,850.6 C869.5,853.9 880.8,857.9 886.6,860 C892.4,862.1 896.4,861.9 900,863.2 C903.6,864.5 905.3,867.4 908,867.9 C910.7,868.4 911.8,868.1 916,866.5 C920.2,864.9 928.1,861.6 933.2,858.5 C938.3,855.4 943.5,852.6 946.6,848 C949.7,843.4 951.1,833.5 952,830.6"/>
<path class="l" d="M861.3,772 L866.6,770 L876,768 L884,766.6 L886.6,762.6 L892,763.3 L893.3,766 L930.6,764.6 L935.9,737.3 L945.2,734.6 L948.6,758.6 L950,744 L960,747.3 L958.6,800 L957.2,826.6 L951.9,830.6"/>
<path class="m" d="M951,746.6 C951.3,751.7 952.8,763.3 953,777 C953.2,790.7 952.2,820.3 952,829"/>
<path class="m" d="M938,740 L941,762 L949,766"/>
<path class="m" d="M931,765 L950,770"/>
<path class="l" d="M866.6,773.3 C869.9,773.8 881.9,775.6 886.6,776.6 C891.3,777.6 889,779.1 894.6,779.3 C900.2,779.5 910.2,778.5 920,778 C929.8,777.5 947.7,776.8 953.2,776.6"/>
<path class="g" d="M894.6,772 C899.7,771.9 915.3,771.3 925,771.5 C934.7,771.7 948.3,772.8 953,773"/>
<path class="l" d="M866,785.3 C869,787.1 879.2,793.5 884,796 C888.8,798.5 888.6,799.2 894.6,800 C900.6,800.8 910.2,800.4 920,800.6 C929.8,800.8 947.7,801.2 953.2,801.3"/>
<path class="g" d="M866.6,784 C872.2,784.3 890,784.9 900,786 C910,787.1 917.9,789.1 926.6,790.6 C935.3,792.1 947.8,794.5 952,795.3"/>
<path class="g" d="M868,787 C873.3,787.3 890.2,787.9 900,789 C909.8,790.1 918.3,791.9 926.6,793.5 C934.9,795.1 946.1,797.7 950,798.5"/>
<path class="l" d="M866,806.1 C869,807.9 879.2,814.3 884,816.8 C888.8,819.2 888.6,820 894.6,820.8 C900.6,821.6 910.5,820.9 920,821.4 C929.5,821.9 946.4,823.6 951.7,824.1"/>
<path class="g" d="M866.6,804.8 C872.2,805.1 890,805.7 900,806.8 C910,807.9 918.2,809.6 926.6,811.4 C935,813.2 946.5,816.6 950.5,817.6"/>
<path class="g" d="M868,807.8 C873.3,808.1 890.2,808.7 900,809.8 C909.8,810.9 918.5,812.5 926.6,814.3 C934.7,816.1 944.9,819.7 948.5,820.8"/>
<path class="l" d="M866,826.8 C869,828.6 879.2,835 884,837.5 C888.8,840 888.6,840.7 894.6,841.5 C900.6,842.3 910.7,841.2 920,842.1 C929.3,843 945.2,846 950.2,846.8"/>
<path class="g" d="M866.6,825.5 C872.2,825.8 890,826.4 900,827.5 C910,828.6 918.4,830.1 926.6,832.1 C934.8,834.1 945.3,838.5 949,839.8"/>
<path class="g" d="M868,828.5 C873.3,828.8 890.2,829.4 900,830.5 C909.8,831.6 918.8,832.9 926.6,835 C934.4,837.1 943.6,841.7 947,843"/>
<path class="l" d="M861.3,798.6 L846.6,794.6 L837.3,796 L836.6,801.3 L846.6,804 L850.6,808 L861.3,810.6"/>
<path class="l" d="M861.3,830.6 L852,828 L851.3,836 L861.3,837.2"/>
<path class="l" d="M840.8,851 L847,851 L847,907 L840.8,905.5Z"/>
<path class="b" d="M841,851 C840.7,850.2 840.2,846.4 839,846 C837.8,845.6 834.5,847 834,848.5 C833.5,850 835.7,853.9 836,855"/>
<path class="kf" d="M832.5,869 L846,867 L846,872.5 L834,873Z"/>
<path class="b" d="M1043.8,813.7 C1037.7,816.8 1020.3,825.1 1007.3,832.4 C994.3,839.7 976.1,849.8 965.7,857.4 C955.3,865 950.8,869.9 944.9,878.2 C939,886.5 934.1,897.2 930.3,907.3 C926.5,917.4 924.2,928.2 922,938.6 C919.8,949 918.6,958.9 916.8,969.8 C915,980.7 912.5,993.8 911,1004 C909.5,1014.2 908.5,1026.5 908,1031"/>
<path class="g" d="M1043.3,823.3 C1037.3,826.4 1019.2,835.3 1007.3,842 C995.3,848.7 981.1,856.4 971.6,863.3 C962.1,870.2 955.5,876.1 950,883.3 C944.5,890.5 941.6,898 938.3,906.6 C935,915.2 932.2,926.7 930,935 C927.8,943.3 926.7,948.3 925,956.6 C923.3,964.9 921.6,974.4 920,985 C918.4,995.6 916.2,1014.2 915.5,1020"/>
<path class="l" d="M1043.8,813.7 C1044.7,817.5 1047.8,824.5 1049,836.6 C1050.2,848.7 1050.7,875.9 1051,886.5 C1051.3,897.1 1050.9,883.9 1050.7,900 C1050.5,916.1 1050.3,963.2 1049.6,983.3 C1048.9,1003.4 1047,1014.5 1046.5,1020.7"/>
<path class="l" d="M908,1031 C913.7,1033.5 932.1,1041.7 942.4,1045.7 C952.6,1049.7 961.5,1053.1 969.5,1055 C977.5,1056.9 980.9,1058.2 990.3,1057 C999.7,1055.8 1017.4,1050.7 1025.7,1047.8 C1034,1044.9 1036.8,1044 1040.3,1039.5 C1043.8,1035 1045.5,1023.8 1046.5,1020.7"/>
<path class="m" d="M913,1029 C917.8,1031.1 932.8,1037.9 942,1041.5 C951.2,1045.1 963.7,1049 968,1050.5"/>
<path class="b" d="M1039,944.8 C1039.9,948.4 1043.2,958.5 1044.4,966.6 C1045.7,974.8 1046.5,984 1046.5,993.7 C1046.5,1003.4 1044.8,1019.8 1044.4,1025"/>
<path d="M1039,944.5 L1043.5,946 L1043.2,955Z" fill="#222"/>
<path class="g" d="M1036.5,934 L1038.5,944"/>
<path class="l" d="M959,971 C961,966.1 967.9,968.8 971,970.8 C974.1,972.8 976.8,976.5 977.8,983 C978.8,989.5 977.2,1001.3 977,1010 C976.8,1018.7 977.4,1029 976.5,1035 C975.6,1041 974.1,1045.1 971.5,1045.7 C968.9,1046.3 963.2,1042 961,1038.5 C958.8,1035 958.3,1031.4 958,1025 C957.7,1018.6 958.8,1009 959,1000 C959.2,991 957,975.9 959,971Z"/>
<path class="m" d="M962.5,974 C962.2,978.3 961.2,991.5 961,1000 C960.8,1008.5 960.5,1019 961,1025 C961.5,1031 963.5,1034.2 964,1036"/>
<path class="m" d="M928,968.7 C931.7,968.8 943.1,968.6 950,969 C956.9,969.4 966.2,970.5 969.5,970.8"/>
<path class="g" d="M924.7,975 C923.9,979.2 921.2,991.7 920,1000 C918.8,1008.3 916.7,1019.8 917.5,1025 C918.3,1030.2 918,1029.7 924.7,1031 C931.5,1032.3 952.5,1032.7 958,1033"/>
<path class="g" d="M982,985 C982,989.2 982.3,1000.8 982,1010 C981.7,1019.2 980.3,1035 980,1040"/>
<path class="g" d="M981.6,866.6 L1043.3,845.8"/>
<path class="g" d="M1023.3,896.6 L1043.3,888.3"/>
<path class="g" d="M943.3,959 L1025,933.3"/>
<path class="g" d="M1014,956.6 L1033.3,950.8"/>
<path class="g" d="M963.3,964 L990,960.8"/>
<path class="g" d="M1046.6,855 C1042.2,857.2 1027.8,863.8 1020,868 C1012.2,872.2 1005.2,875.8 1000,880 C994.8,884.2 989.8,889.8 989,893.3 C988.2,896.8 992.7,899.5 995,900.8 C997.3,902 1001.7,900.8 1003,900.8"/>
</g>
<g id="labels">
<circle cx="456.9" cy="1138.9" r="18" fill="#b4c7e7"/>
<text transform="translate(456.9 1147.1) scale(.94 1)" style="fill:#35405a">3</text>
<text transform="translate(438 68.2) scale(.94 1)">27</text>
<text transform="translate(554.5 31.2) scale(.94 1)">22</text>
<text transform="translate(454.6 104.2) scale(.94 1)">24</text>
<text transform="translate(580.5 84.2) scale(.94 1)">25</text>
<text transform="translate(650 113.2) scale(.94 1)">37</text>
<text transform="translate(610.7 132.2) scale(.94 1)">23</text>
<text transform="translate(587.8 179.2) scale(.94 1)">29</text>
<text transform="translate(655.4 198.7) scale(.94 1)">36</text>
<text transform="translate(705.4 224.2) scale(.94 1)">28</text>
<text transform="translate(302.4 200.2) scale(.94 1)">40</text>
<text transform="translate(559.7 271.7) scale(.94 1)">11</text>
<text transform="translate(789 285) scale(.94 1)">26</text>
<text transform="translate(879.6 239.4) scale(.94 1)">25</text>
<text transform="translate(930.5 241.5) scale(.94 1)">21</text>
<text transform="translate(983.6 267.5) scale(.94 1)">24</text>
<text transform="translate(1009.6 310.2) scale(.94 1)">20</text>
<text transform="translate(861.7 334.7) scale(.94 1)">23</text>
<text transform="translate(1020 367.4) scale(.94 1)">34</text>
<text transform="translate(983.6 383.2) scale(.94 1)">33</text>
<text transform="translate(271.2 379.7) scale(.94 1)">35</text>
<text transform="translate(642 389.7) scale(.94 1)">39</text>
<text transform="translate(712.3 400.2) scale(.94 1)">16</text>
<text transform="translate(756.2 415.2) scale(.94 1)">15</text>
<text transform="translate(895 422.7) scale(.94 1)">29</text>
<text transform="translate(878.6 449.8) scale(.94 1)">18</text>
<text transform="translate(894.7 515.4) scale(.94 1)">19</text>
<text transform="translate(998.8 520.6) scale(.94 1)">17</text>
<text transform="translate(715.8 541) scale(.94 1)">14</text>
<text transform="translate(999.4 577.8) scale(.94 1)">11</text>
<text transform="translate(382.4 537.7) scale(.94 1)">38</text>
<text transform="translate(349.9 666.5) scale(.94 1)">6</text>
<text transform="translate(278.7 696.2) scale(.94 1)">7</text>
<text transform="translate(594 721.6) scale(.94 1)">1</text>
<text transform="translate(229.8 874.2) scale(.94 1)">8</text>
<text transform="translate(885.6 902) scale(.94 1)">12</text>
<text transform="translate(857.9 946.2) scale(.94 1)">9</text>
<text transform="translate(573 1000.2) scale(.94 1)">30</text>
<text transform="translate(562.5 1043.2) scale(.94 1)">31</text>
<text transform="translate(565 1087.2) scale(.94 1)">32</text>
<text transform="translate(641.5 1105.7) scale(.94 1)">8</text>
<text transform="translate(427.5 1055.2) scale(.94 1)">5</text>
<text transform="translate(469.9 1100.2) scale(.94 1)">2</text>
<text transform="translate(444.9 1193) scale(.94 1)">4</text>
<text transform="translate(926.2 1085.2) scale(.94 1)">10</text>
<text transform="translate(1002.2 1122.6) scale(.94 1)">13</text>
</g>
</svg>
</body></html>
